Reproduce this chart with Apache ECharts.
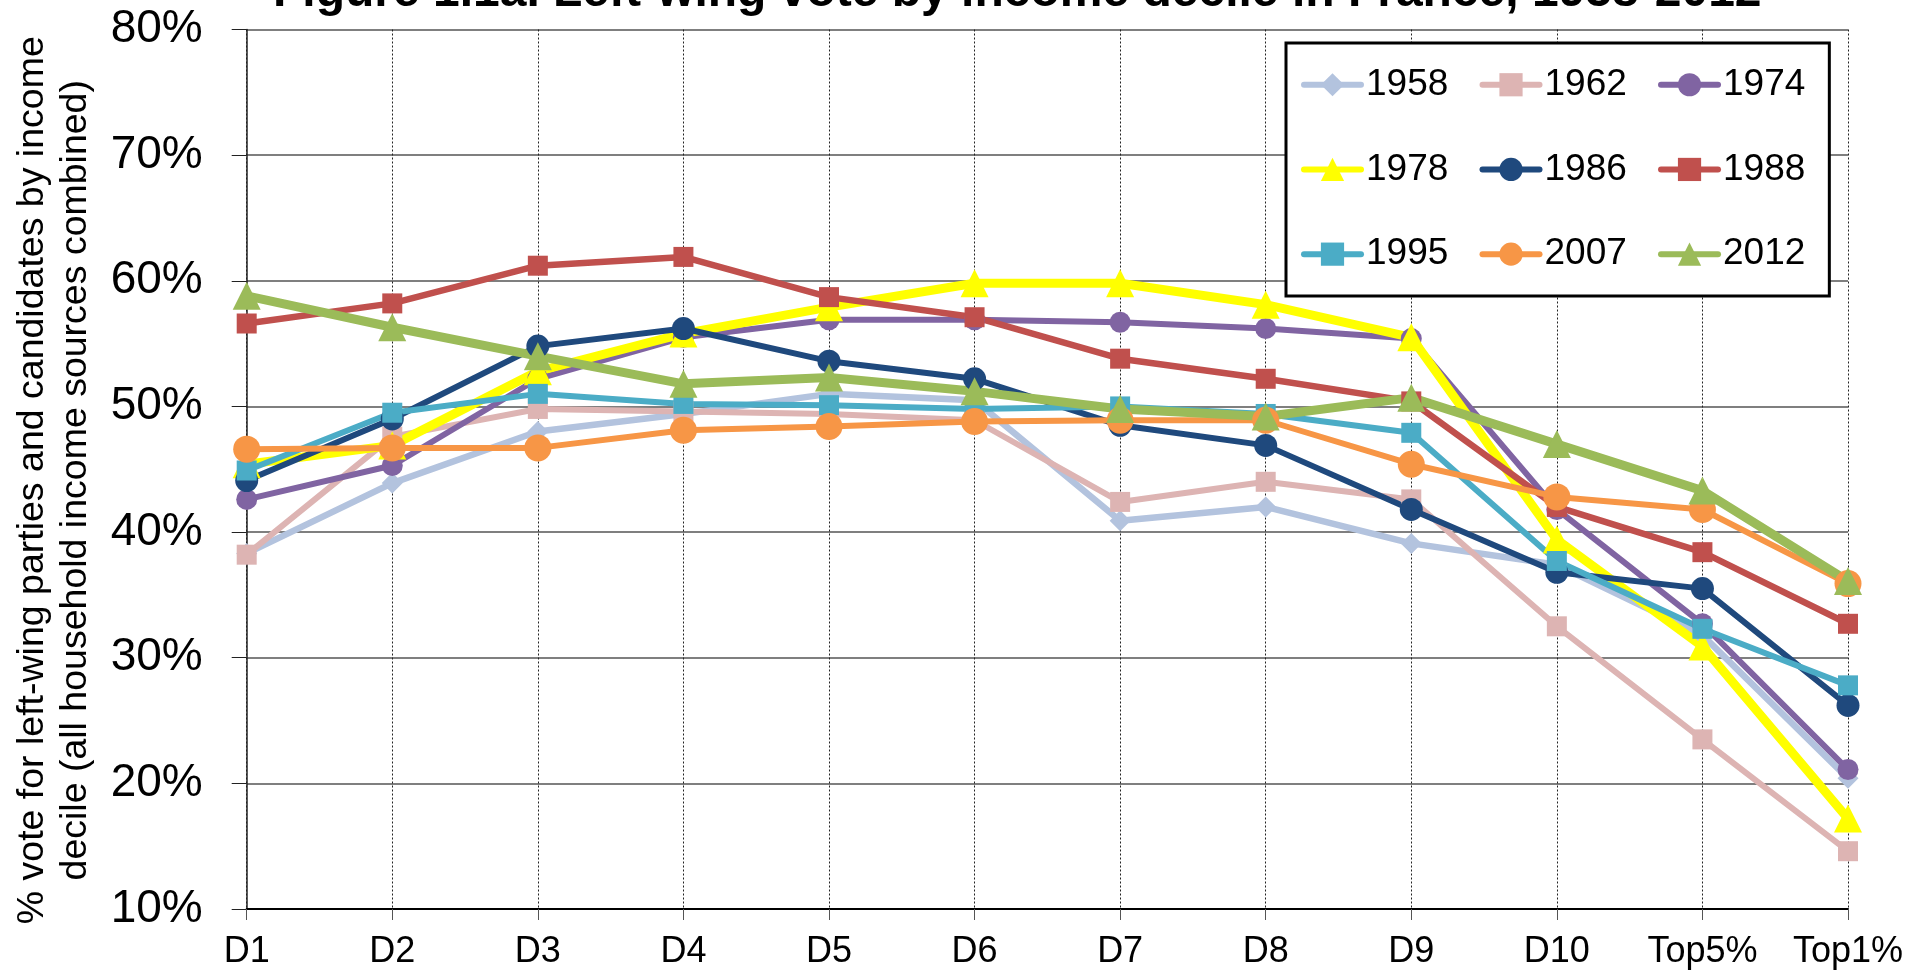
<!DOCTYPE html>
<html>
<head>
<meta charset="utf-8">
<title>Left-wing vote by income decile in France, 1958-2012</title>
<script src="https://cdn.jsdelivr.net/npm/echarts@6/dist/echarts.min.js"></script>
<style>
  html, body { margin: 0; padding: 0; background: #fff; }
  #chart { width: 1926px; height: 973px; }
</style>
</head>
<body>
<div id="chart"></div>
<script>
// categories (income groups)
const deciles = ['D1', 'D2', 'D3', 'D4', 'D5', 'D6', 'D7', 'D8', 'D9', 'D10', 'Top5%', 'Top1%']
const years = ['1958', '1962', '1974', '1978', '1986', '1988', '1995', '2007', '2012']

// % left-wing vote
const vote1958 = [38.3, 43.9, 48.0, 49.4, 51.0, 50.5, 40.9, 42.0, 39.1, 37.4, 31.8, 20.4]
const vote1962 = [38.2, 47.6, 49.8, 49.6, 49.4, 48.9, 42.4, 44.0, 42.6, 32.5, 23.5, 14.6]
const vote1974 = [42.6, 45.3, 52.2, 55.5, 56.9, 56.9, 56.7, 56.2, 55.4, 41.8, 32.7, 21.1]
const vote1978 = [45.4, 46.9, 52.8, 55.8, 57.9, 59.8, 59.8, 58.1, 55.5, 39.4, 30.9, 17.2]
const vote1986 = [44.1, 49.0, 54.8, 56.2, 53.6, 52.2, 48.5, 46.9, 41.8, 36.8, 35.5, 26.2]
const vote1988 = [56.6, 58.2, 61.2, 61.9, 58.7, 57.1, 53.8, 52.2, 50.4, 42.0, 38.4, 32.7]
const vote1995 = [44.9, 49.5, 51.0, 50.2, 50.1, 49.8, 50.0, 49.4, 47.9, 37.7, 32.3, 27.8]
const vote2007 = [46.6, 46.7, 46.7, 48.1, 48.4, 48.8, 48.9, 48.9, 45.4, 42.8, 41.8, 35.9]
const vote2012 = [58.8, 56.3, 54.0, 51.8, 52.3, 51.2, 49.8, 49.2, 50.7, 47.0, 43.3, 36.1]

// y axis ticks
const yMin = 10
const yMax = 80
const yStep = 10

const votes = [vote1958, vote1962, vote1974, vote1978, vote1986, vote1988, vote1995, vote2007, vote2012]

// look of each year's line
const lineLook = {
  1958: { color: '#b3c3de', symbol: 'diamond', size: 21, width: 6.5 },
  1962: { color: '#ddb4b3', symbol: 'rect', size: 20, width: 6 },
  1974: { color: '#8064a2', symbol: 'circle', size: 21, width: 6 },
  1978: { color: '#ffff00', symbol: 'triangle', size: 28, width: 9 },
  1986: { color: '#1f497d', symbol: 'circle', size: 23, width: 6 },
  1988: { color: '#c0504d', symbol: 'rect', size: 20, width: 6.5 },
  1995: { color: '#4bacc6', symbol: 'rect', size: 20, width: 6 },
  2007: { color: '#f79646', symbol: 'circle', size: 27, width: 6 },
  2012: { color: '#9bbb59', symbol: 'triangle', size: 28, width: 9 }
}

const FONT = '"Liberation Sans", Arial, sans-serif'

const chart = echarts.init(document.getElementById('chart'))

const series = years.map((year, i) => {
  const look = lineLook[year]
  return {
    name: year,
    type: 'line',
    data: votes[i],
    symbol: look.symbol,
    symbolSize: look.size,
    showAllSymbol: true,
    animation: false,
    lineStyle: { color: look.color, width: look.width, cap: 'round', join: 'round' },
    itemStyle: { color: look.color, opacity: 1 },
    emphasis: { disabled: true }
  }
})

const option = {
  backgroundColor: '#ffffff',
  animation: false,
  title: {
    text: 'Figure 1.1a. Left-wing vote by income decile in France, 1958-2012',
    left: 273,
    top: -31,
    padding: 0,
    textStyle: { fontFamily: FONT, fontSize: 48, fontWeight: 'bold', color: '#000' }
  },
  legend: {
    data: years,
    left: 1286,
    top: 43,
    width: 534,
    orient: 'horizontal',
    padding: [15, 24, 15, 15],
    itemGap: 31.2,
    itemWidth: 57,
    itemHeight: 29,
    borderColor: '#000',
    borderWidth: 3,
    backgroundColor: '#fff',
    selectedMode: false,
    lineStyle: { width: 6, cap: 'round' },
    textStyle: { fontFamily: FONT, fontSize: 37, color: '#000', lineHeight: 53.5 }
  },
  grid: {
    left: 246.7,
    right: 78,
    top: 29.5,
    bottom: 64,
    containLabel: false,
    outerBoundsMode: 'none'
  },
  xAxis: {
    type: 'category',
    data: deciles,
    boundaryGap: false,
    axisLine: { show: true, onZero: false, lineStyle: { color: '#000', width: 2 } },
    axisTick: { show: true, length: 11, lineStyle: { color: '#555', width: 1 } },
    axisLabel: { fontFamily: FONT, fontSize: 36, color: '#000', margin: 25, interval: 0 },
    splitLine: { show: true, lineStyle: { color: '#222', width: 1, type: [2, 2] } }
  },
  yAxis: {
    type: 'value',
    min: yMin,
    max: yMax,
    interval: yStep,
    name: '% vote for left-wing parties and candidates by income\ndecile (all household income sources combined)',
    nameLocation: 'middle',
    nameRotate: 90,
    nameGap: 150,
    nameTextStyle: {
      fontFamily: FONT,
      fontSize: 37.5,
      lineHeight: 43,
      color: '#000',
      padding: [0, 22, 0, 0]
    },
    axisLine: { show: true, lineStyle: { color: '#222', width: 1.5 } },
    axisTick: { show: true, length: 15, lineStyle: { color: '#222', width: 1 } },
    axisLabel: { fontFamily: FONT, fontSize: 46, color: '#000', margin: 44, formatter: '{value}%' },
    splitLine: { show: true, lineStyle: { color: '#555', width: 1.5 } }
  },
  series: series
}

chart.setOption(option)
</script>
</body>
</html>
